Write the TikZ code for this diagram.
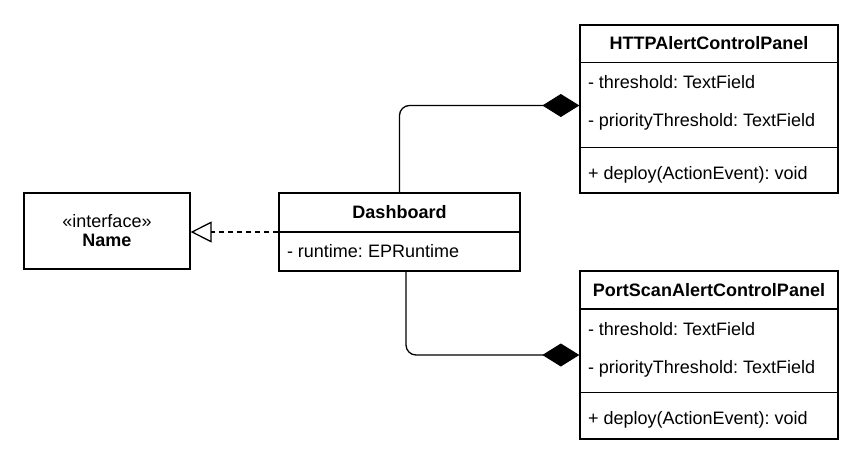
\documentclass[tikz,border=0pt]{standalone}
\usepackage{fontspec}
\setmainfont{Liberation Sans}
\usetikzlibrary{arrows.meta, positioning, calc}
\frenchspacing

\begin{document}
\begin{tikzpicture}[
    x=1pt, y=-1pt,           % pixel-like units, y going down
    font=\fontsize{18}{21}\selectfont,
    line width=1.3pt,
    classbox/.style={
        draw,
        line width=1.3pt,
        inner sep=0pt,
        minimum width=258pt,
        minimum height=168pt
    },
    member/.style={anchor=west, inner sep=0pt},
    title/.style={font=\fontsize{18}{21}\selectfont\bfseries, inner sep=0pt},
    composition/.style={-{Diamond[length=37pt, width=23pt]}, rounded corners=10pt},
    realization/.style={-{Triangle[open, length=21pt, width=21pt]}, dash pattern=on 5pt off 4pt}
]

\useasboundingbox (0,0) rectangle (860,468);

%------------------------------------
% INTERFACE
%------------------------------------
\node[draw, minimum width=166pt, minimum height=76pt, align=center] (iface) at (107,231)
{\guillemotleft interface\guillemotright\\[-2pt]\textbf{Name}};

%------------------------------------
% DASHBOARD
%------------------------------------
\node[draw, minimum width=241pt, minimum height=78pt] (dash) at (399.5,232) {};
\node[title] (dash_title) at ($(dash.north)+(0,19.5)$) {Dashboard};
\draw (dash.west) -- (dash.east);
\node[member] (dash_runtime) at ($(dash.north west)+(8,59)$) {- runtime: EPRuntime};

%------------------------------------
% HTTP ALERT CONTROL PANEL
%------------------------------------
\node[classbox] (http) at (709,109) {};
\node[title] (http_title) at ($(http.north)+(0,19)$) {HTTPAlertControlPanel};
\draw ($(http.north west)+(0,38)$) -- ($(http.north east)+(0,38)$);
\draw ($(http.north west)+(0,123)$) -- ($(http.north east)+(0,123)$);
\node[member] (http_threshold) at ($(http.north west)+(8,58)$) {- threshold: TextField};
\node[member] (http_priority) at ($(http.north west)+(8,97)$) {- priorityThreshold: TextField};
\node[member] (http_deploy) at ($(http.north west)+(8,150)$) {+ deploy(ActionEvent): void};

%------------------------------------
% PORT SCAN ALERT CONTROL PANEL
%------------------------------------
\node[classbox] (port) at (709,355) {};
\node[title] (port_title) at ($(port.north)+(0,19.5)$) {PortScanAlertControlPanel};
\draw ($(port.north west)+(0,38.5)$) -- ($(port.north east)+(0,38.5)$);
\draw ($(port.north west)+(0,122)$) -- ($(port.north east)+(0,122)$);
\node[member] (port_threshold) at ($(port.north west)+(8,59)$) {- threshold: TextField};
\node[member] (port_priority) at ($(port.north west)+(8,98)$) {- priorityThreshold: TextField};
\node[member] (port_deploy) at ($(port.north west)+(8,149)$) {+ deploy(ActionEvent): void};

%------------------
% EDGES (ARROWS)
%------------------

% Dashboard realizes the interface
\draw[realization] (dash.west) -- (dash.west -| iface.east);

% Dashboard composed of the two panels
\draw[composition] (dash.north) |- ($(http.west)+(0,-3.5)$);
\draw[composition] ($(dash.south)+(6.5,0)$) |- (port.west);

\end{tikzpicture}
\end{document}
